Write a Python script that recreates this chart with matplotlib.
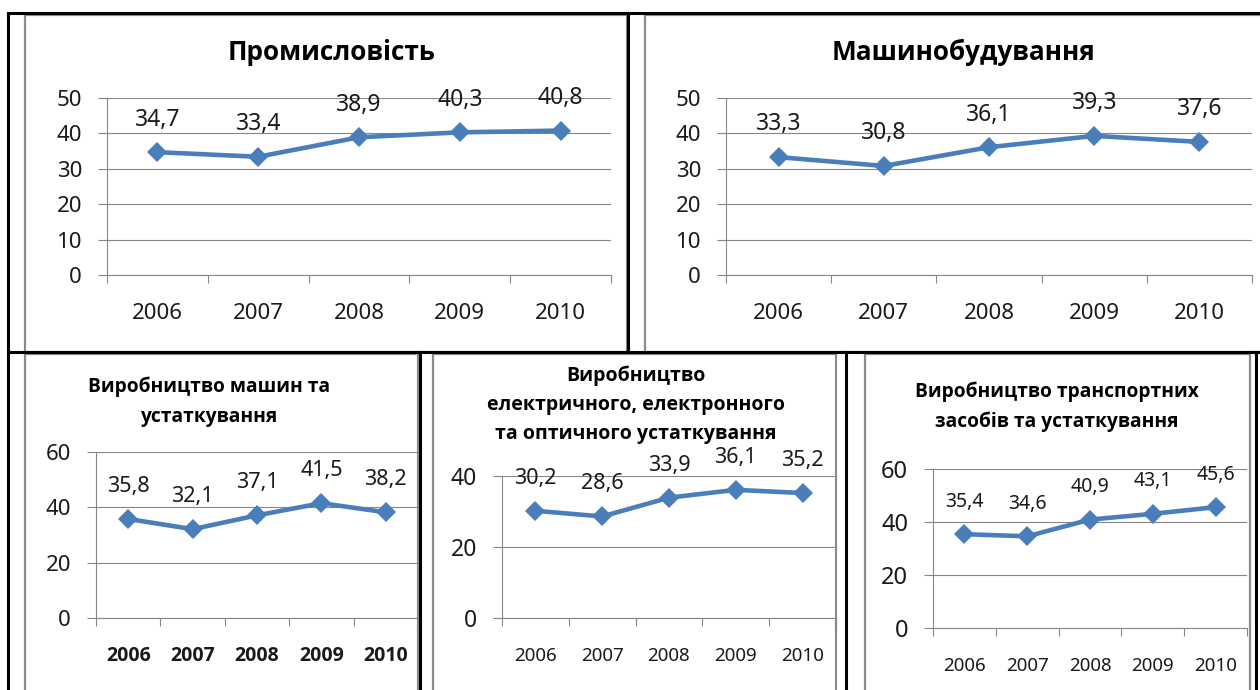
import matplotlib.pyplot as plt

plt.rcParams['font.family'] = ['Noto Sans', 'DejaVu Sans']
BOLD_FAMILY = ['Open Sans', 'DejaVu Sans']

years = ['2006', '2007', '2008', '2009', '2010']
promyslovist = [34.7, 33.4, 38.9, 40.3, 40.8]
mashynobuduvannia = [33.3, 30.8, 36.1, 39.3, 37.6]
mashyny = [35.8, 32.1, 37.1, 41.5, 38.2]
elektro = [30.2, 28.6, 33.9, 36.1, 35.2]
transport = [35.4, 34.6, 40.9, 43.1, 45.6]

W, H = 1260, 690
BLUE = '#4a7ebb'
GRID = '#868686'
TXT = '#1a1a1a'

fig = plt.figure(figsize=(12.6, 6.9), dpi=100)

# table and chart-area frames, in pixel coordinates
bg = fig.add_axes([0, 0, 1, 1], zorder=0)
bg.set_xlim(0, W)
bg.set_ylim(H, 0)
bg.axis('off')

frames = [(25, 15, 627, 352), (645, 15, 1265, 352),
          (25, 354, 418, 695), (433, 354, 836, 695), (865, 354, 1250, 695)]
for x0, y0, x1, y1 in frames:
    bg.plot([x0, x1, x1, x0, x0], [y0, y0, y1, y1, y0], color='#8c8c8c', lw=1.6)

black = [((8, 1260), (13, 13)), ((8, 8), (13, 690)), ((628, 628), (13, 352)),
         ((8, 1260), (352, 352)), ((420, 420), (352, 690)),
         ((846, 846), (352, 690)), ((1256, 1256), (352, 690))]
for xs, ys in black:
    bg.plot(xs, ys, color='black', lw=2.2, solid_capstyle='projecting')


def px(x, y):
    return x / W, 1 - y / H


def chart(box, values, ymax, ystep, title_lines, title_pos, title_step, title_fs,
          ytick_fs, xtick_fs, xtick_bold, dlab_fs):
    x0, y0, x1, y1 = box
    ax = fig.add_axes([x0 / W, 1 - y1 / H, (x1 - x0) / W, (y1 - y0) / H], zorder=2)
    ax.set_facecolor('none')
    xs = range(len(years))
    ax.plot(xs, values, color=BLUE, lw=3.3, marker='D', ms=10, mew=0,
            solid_joinstyle='round', zorder=3)
    for i, v in enumerate(values):
        ax.annotate(f'{v:.1f}'.replace('.', ','), (i, v), xytext=(0, 23.5),
                    textcoords='offset points', ha='center', va='center',
                    fontsize=dlab_fs, color=TXT, zorder=4)
    ax.set_xlim(-0.5, len(years) - 0.5)
    ax.set_ylim(0, ymax)
    ax.set_yticks(range(0, ymax + 1, ystep))
    ax.grid(axis='y', color=GRID, lw=0.8)
    ax.set_axisbelow(True)
    for s in ['top', 'right']:
        ax.spines[s].set_visible(False)
    for s in ['left', 'bottom']:
        ax.spines[s].set_color(GRID)
        ax.spines[s].set_linewidth(0.8)
    ax.set_xticks([i - 0.5 for i in range(len(years) + 1)])
    ax.set_xticklabels([])
    ax.set_xticks(list(xs), minor=True)
    if xtick_bold:
        ax.set_xticklabels(years, minor=True, fontsize=xtick_fs, color=TXT,
                           family=BOLD_FAMILY, fontweight='bold', va='center')
    else:
        ax.set_xticklabels(years, minor=True, fontsize=xtick_fs, color=TXT,
                           va='center')
    ax.tick_params(axis='x', which='major', direction='out', length=5.8,
                   width=0.8, color=GRID)
    ax.tick_params(axis='x', which='minor', length=0, pad=27.5)
    ax.tick_params(axis='y', direction='out', length=6.5, width=0.8, color=GRID,
                   pad=11.5, labelsize=ytick_fs, labelcolor=TXT)
    tx, ty = title_pos
    for k, line in enumerate(title_lines):
        fig.text(*px(tx, ty + k * title_step), line, ha='center', va='center',
                 fontsize=title_fs, fontweight='bold', family=BOLD_FAMILY,
                 color='black')
    return ax


chart((107, 98, 611, 275), promyslovist, 50, 10, ['Промисловість'], (332, 52), 0,
      18.8, 16, 16, False, 16.5)
chart((726, 98, 1252, 275), mashynobuduvannia, 50, 10, ['Машинобудування'], (964, 52), 0,
      18.8, 16, 16, False, 16.5)
chart((96, 452, 418, 618), mashyny, 60, 20,
      ['Виробництво машин та', 'устаткування'], (209, 387), 30,
      13.8, 16, 14, True, 15.5)
chart((502, 476, 836, 618), elektro, 40, 20,
      ['Виробництво', 'електричного, електронного', 'та оптичного устаткування'],
      (636, 376), 29, 14, 16.5, 13.5, False, 15.5)
chart((933, 469, 1247, 628), transport, 60, 20,
      ['Виробництво транспортних', 'засобів та устаткування'], (1057, 392), 30,
      13.8, 17, 13.5, False, 14)

fig.savefig('out.png', dpi=100, facecolor='white')
